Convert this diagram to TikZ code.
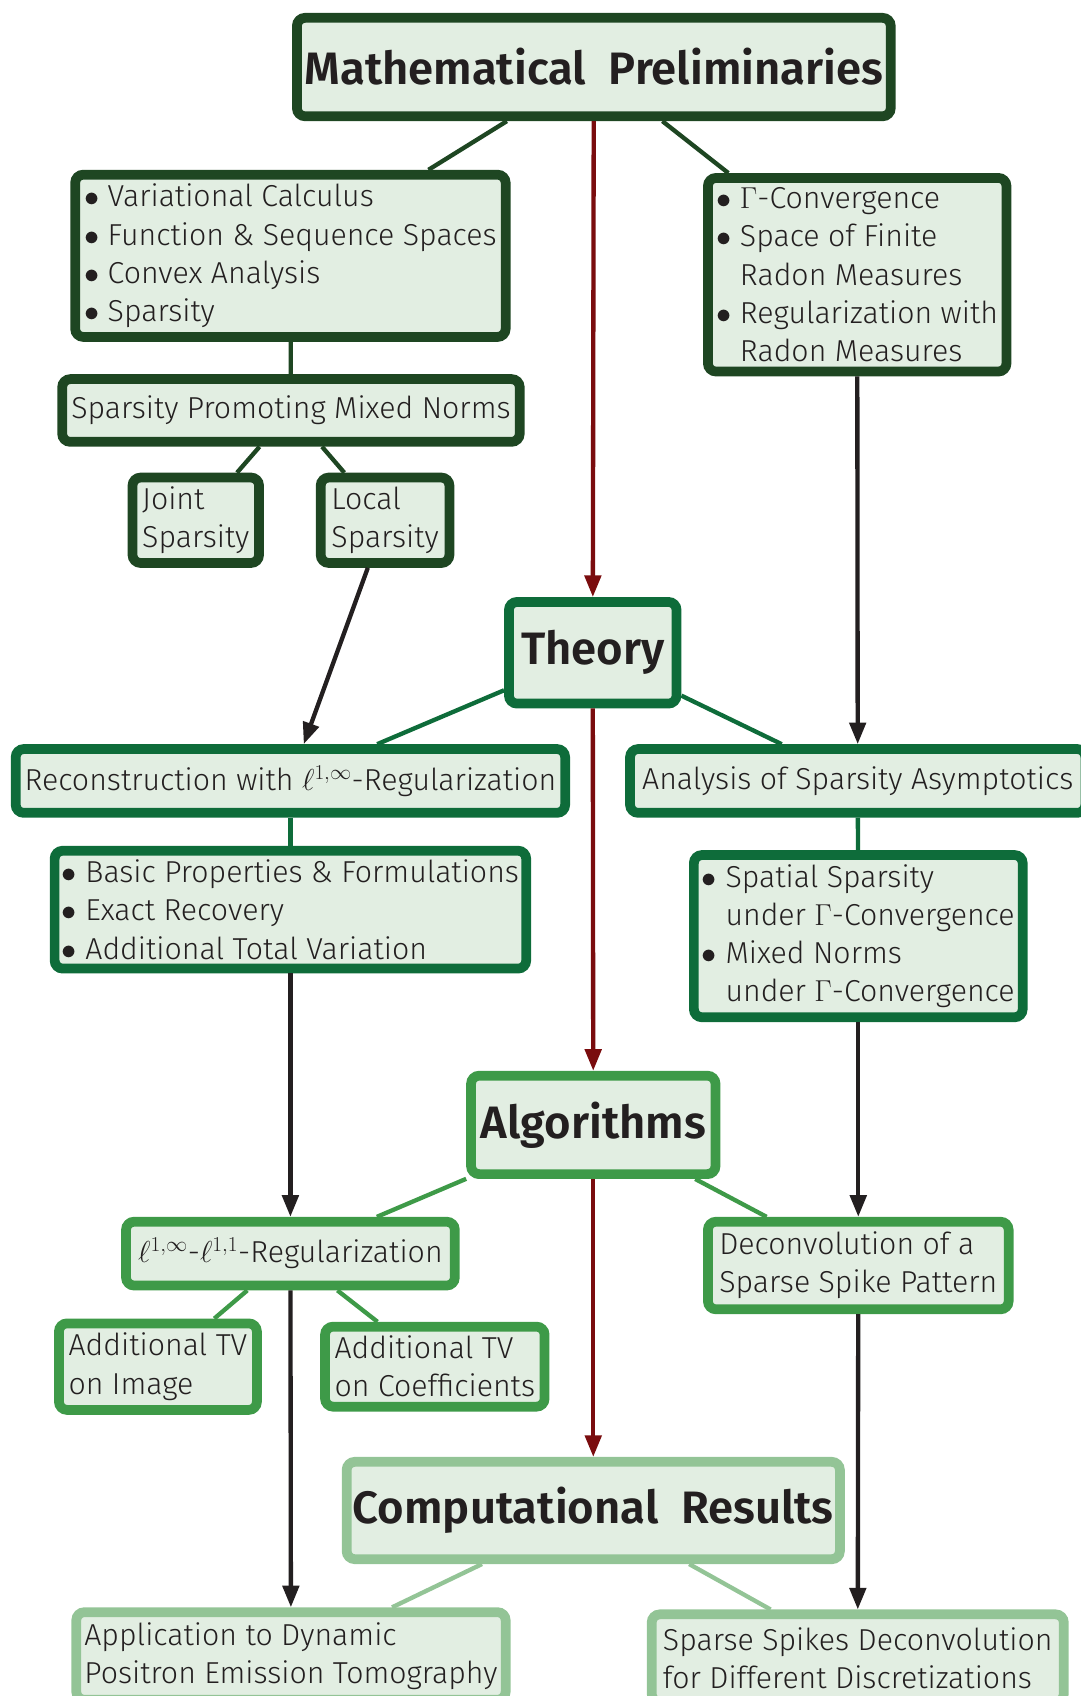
\RequirePackage{fix-cm}
\documentclass[tikz,border=0pt]{standalone}
\usepackage[no-math]{fontspec}
\setmainfont{Fira Sans Light}[BoldFont={Fira Sans SemiBold}]
\usetikzlibrary{arrows.meta}

\definecolor{prelimgreen}{RGB}{30, 70, 34}
\definecolor{theorygreen}{RGB}{14, 108, 58}
\definecolor{algogreen}{RGB}{62, 154, 72}
\definecolor{resultgreen}{RGB}{147, 196, 150}
\definecolor{boxfill}{RGB}{226, 238, 226}
\definecolor{flowred}{RGB}{122, 12, 14}
\definecolor{inkblack}{RGB}{35, 31, 32}

\newcommand{\itm}{$\bullet$\ }
\newcommand{\cont}{\phantom{$\bullet$\ }}

\tikzset{
  topic/.style={draw, fill=boxfill, line width=9pt, rounded corners=7.5pt, inner sep=5pt,
    align=left, text=inkblack, font=\fontsize{28}{35.3}\selectfont},
  chapter/.style={topic, align=center, font=\fontsize{42}{48}\selectfont\bfseries},
  branch/.style={line width=4pt},
  flow/.style={line width=4pt, draw=inkblack, -{Triangle[length=20pt, width=15pt]}},
  mainflow/.style={flow, draw=flowred}
}

\begin{document}
\begin{tikzpicture}[x=1pt, y=-1pt]
  \useasboundingbox (0,0) rectangle (999,1568);

  % Mathematical preliminaries
  \node[chapter, draw=prelimgreen, minimum width=549pt, minimum height=91pt] (prelim) at (549,62) {Mathematical\enspace Preliminaries};
  \node[topic, draw=prelimgreen, minimum width=398pt, minimum height=150pt] (basics) at (268.5,236.5) {
    \itm Variational Calculus\\
    \itm Function \& Sequence Spaces\\
    \itm Convex Analysis\\
    \itm Sparsity};
  \node[topic, draw=prelimgreen, minimum width=276pt, minimum height=179pt] (radon) at (792.5,254) {
    \itm $\Gamma$-Convergence\\
    \itm Space of Finite\\
    \cont Radon Measures\\
    \itm Regularization with\\
    \cont Radon Measures};
  \node[topic, draw=prelimgreen, minimum width=423pt, minimum height=58pt] (mixed) at (269,379.5) {Sparsity Promoting Mixed Norms};
  \node[topic, draw=prelimgreen, minimum width=117pt, minimum height=79pt] (joint) at (181,481) {Joint\\Sparsity};
  \node[topic, draw=prelimgreen, minimum width=119pt, minimum height=79pt] (local) at (356,481) {Local\\Sparsity};

  % Theory
  \node[chapter, draw=theorygreen, minimum width=155pt, minimum height=94pt] (theory) at (548,603.5) {Theory};
  \node[topic, draw=theorygreen, minimum width=508pt, minimum height=59pt] (recon) at (268.5,722) {Reconstruction with $\ell^{1,\infty}$-Regularization};
  \node[topic, draw=theorygreen, minimum width=421pt, minimum height=59pt] (asympt) at (793,722) {Analysis of Sparsity Asymptotics};
  \node[topic, draw=theorygreen, minimum width=436pt, minimum height=109pt] (recovery) at (268.5,841) {
    \itm Basic Properties \& Formulations\\
    \itm Exact Recovery\\
    \itm Additional Total Variation};
  \node[topic, draw=theorygreen, minimum width=304pt, minimum height=150pt] (gammaconv) at (793.5,865.5) {
    \itm Spatial Sparsity\\
    \cont under $\Gamma$-Convergence\\
    \itm Mixed Norms\\
    \cont under $\Gamma$-Convergence};

  % Algorithms
  \node[chapter, draw=algogreen, minimum width=226pt, minimum height=91pt] (algo) at (548.5,1040) {Algorithms};
  \node[topic, draw=algogreen, minimum width=304pt, minimum height=59pt] (mixedreg) at (268.5,1159) {$\ell^{1,\infty}$-$\ell^{1,1}$-Regularization};
  \node[topic, draw=algogreen, minimum width=278pt, minimum height=81pt] (deconv) at (793.5,1170) {Deconvolution of a\\Sparse Spike Pattern};
  \node[topic, draw=algogreen, minimum width=183pt, minimum height=80pt] (tvimage) at (146,1263.5) {Additional TV\\on Image};
  \node[topic, draw=algogreen, minimum width=203pt, minimum height=74pt] (tvcoef) at (402,1263.5) {Additional TV\\on Coefficients};

  % Computational results
  \node[chapter, draw=resultgreen, minimum width=456pt, minimum height=90pt] (results) at (548.5,1396.5) {Computational\enspace Results};
  \node[topic, draw=resultgreen, minimum width=397pt, minimum height=81pt] (pet) at (269,1531) {Application to Dynamic\\Positron Emission Tomography};
  \node[topic, draw=resultgreen, minimum width=381pt, minimum height=81pt] (spikes) at (793,1533) {Sparse Spikes Deconvolution\\for Different Discretizations};

  % branches
  \draw[branch, prelimgreen] (prelim) -- (basics);
  \draw[branch, prelimgreen] (prelim) -- (radon);
  \draw[branch, prelimgreen] (basics) -- (mixed);
  \draw[branch, prelimgreen] (mixed) -- (joint);
  \draw[branch, prelimgreen] (mixed) -- (local);
  \draw[branch, theorygreen] (theory) -- (recon);
  \draw[branch, theorygreen] (theory) -- (asympt);
  \draw[branch, theorygreen] (recon) -- (recovery);
  \draw[branch, theorygreen] (asympt) -- (gammaconv);
  \draw[branch, algogreen] (algo) -- (mixedreg);
  \draw[branch, algogreen] (algo) -- (deconv);
  \draw[branch, algogreen] (mixedreg) -- (tvimage);
  \draw[branch, algogreen] (mixedreg) -- (tvcoef);
  \draw[branch, resultgreen] (results) -- (pet);
  \draw[branch, resultgreen] (results) -- (spikes);

  % flow between topics
  \draw[flow] (local) -- (recon);
  \draw[flow] (radon) -- (asympt);
  \draw[flow] (recovery) -- (mixedreg);
  \draw[flow] (gammaconv) -- (deconv);
  \draw[flow] (mixedreg) -- (pet);
  \draw[flow] (deconv) -- (spikes);

  % main line
  \draw[mainflow] (prelim) -- (theory);
  \draw[mainflow] (theory) -- (algo);
  \draw[mainflow] (algo) -- (results);
\end{tikzpicture}
\end{document}
